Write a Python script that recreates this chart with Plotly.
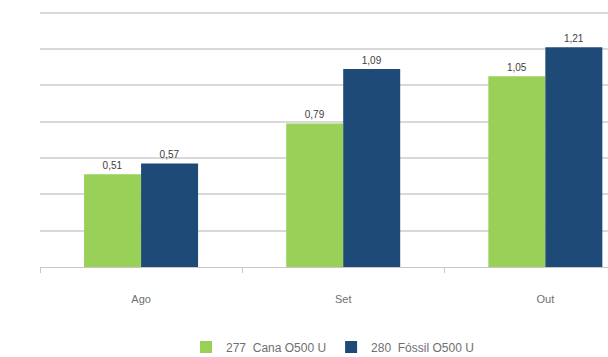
import plotly.graph_objects as go

categories = ["Ago", "Set", "Out"]
cana = [0.51, 0.79, 1.05]
fossil = [0.57, 1.09, 1.21]
names = ["277  Cana O500 U", "280  Fóssil O500 U"]
grid_vals = [0, 0.2, 0.4, 0.6, 0.8, 1.0, 1.2, 1.4]

green = "#98D058"
blue = "#1E4A78"

fig = go.Figure()
for vals, name, col in [(cana, names[0], green), (fossil, names[1], blue)]:
    fig.add_trace(go.Bar(
        x=categories, y=vals, name=name, marker=dict(color=col, line=dict(width=0)),
        text=vals, texttemplate="%{y:.2f}", textposition="outside",
        textfont=dict(size=10, color="#404040", family="Liberation Sans"),
        cliponaxis=False,
    ))

fig.update_layout(
    width=608, height=357,
    margin=dict(l=40, r=0, t=9, b=90, autoexpand=False),
    paper_bgcolor="white", plot_bgcolor="white",
    barmode="group", bargap=0.436, bargroupgap=0,
    separators=",.",
    font=dict(family="Liberation Sans", color="#7f7f7f"),
    showlegend=True,
    legend=dict(orientation="h", x=0.515, xanchor="center",
                yref="container", y=0.028, yanchor="middle",
                font=dict(size=12, color="#6f6f6f"), traceorder="normal"),
    xaxis=dict(range=[-0.5, 2.31], showline=True, linecolor="#C8C8C8", linewidth=1,
               ticks="outside", tickson="boundaries", ticklen=5, tickcolor="#C8C8C8",
               tickfont=dict(size=11, color="#707070"), ticklabelstandoff=22,
               showgrid=False),
    yaxis=dict(range=[0, 1.42], tickmode="array", tickvals=grid_vals,
               showgrid=True, gridcolor="#D9D9D9", gridwidth=2,
               showticklabels=False, zeroline=False, showline=False),
)

fig.write_html("out.html")
